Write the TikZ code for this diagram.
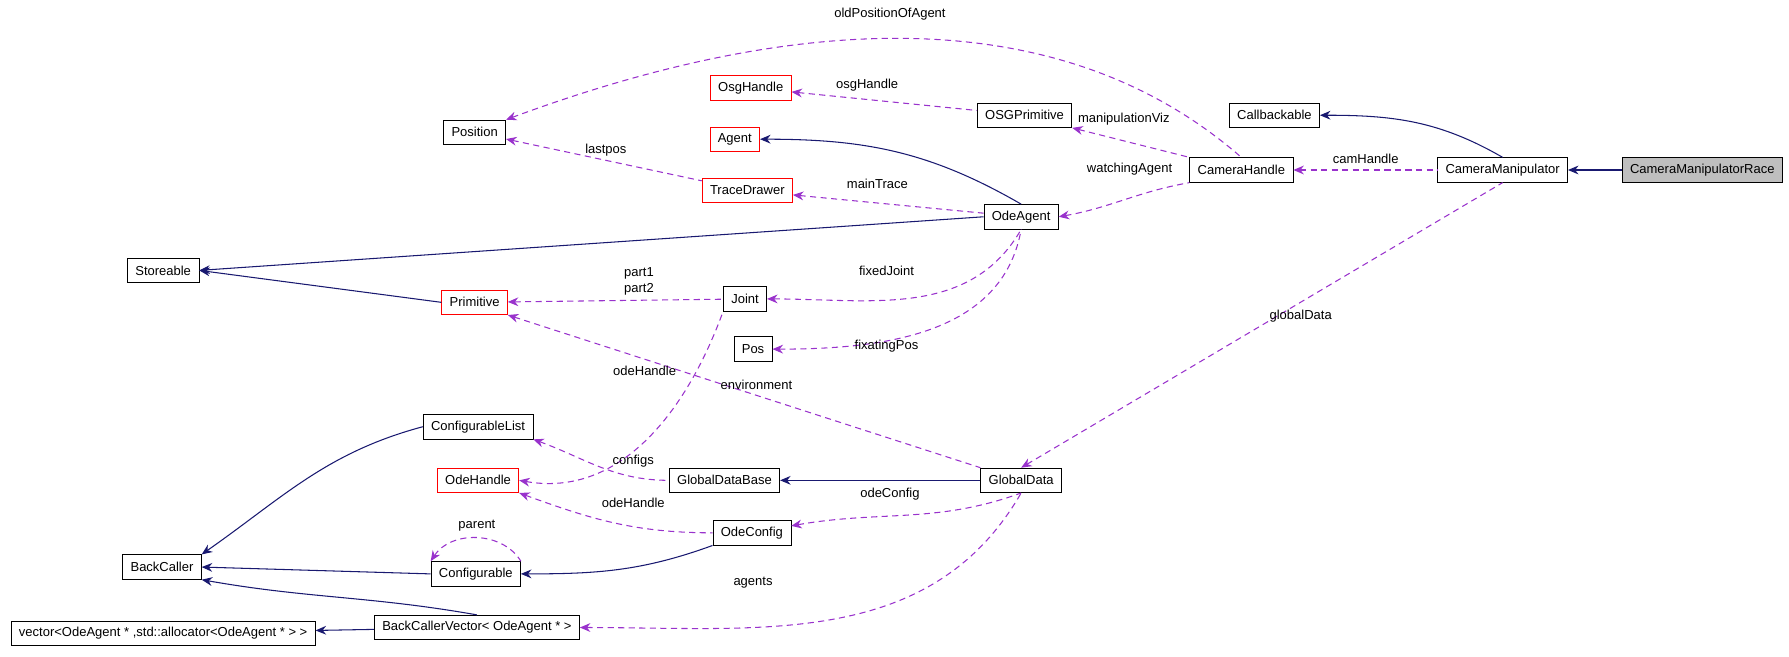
\documentclass[tikz,border=0pt]{standalone}
\usepackage{fontspec}
\setmainfont{Liberation Sans}
\usetikzlibrary{arrows.meta,positioning}
\definecolor{navyline}{RGB}{25,25,112}
\definecolor{useline}{RGB}{153,50,204}
\tikzset{
  cls/.style={draw, fill=white, font=\fontsize{7.4}{8}\selectfont, minimum height=14pt, inner xsep=4.5pt, inner ysep=1pt},
  redcls/.style={cls, draw=red},
  leaf/.style={cls, fill=black!25},
  inh/.style={navyline, semithick, {Stealth[length=6pt,width=5pt]}-},
  use/.style={useline, semithick, dashed, dash pattern=on 3.5pt off 2.5pt, {Stealth[length=6pt,width=5pt]}-},
  lbl/.style={font=\fontsize{7.4}{8}\selectfont, inner sep=1pt},
}
\begin{document}
\begin{tikzpicture}[x=0.02282cm,y=-0.02282cm]
\useasboundingbox (0,0) rectangle (1568,575);
% classes
\node (race)[leaf] at (1492,149) {CameraManipulatorRace};
\node (cammanip)[cls] at (1317,149) {CameraManipulator};
\node (callbackable)[cls] at (1117,101) {Callbackable};
\node (camhandle)[cls] at (1088,149) {CameraHandle};
\node (osgprim)[cls] at (898,101) {OSGPrimitive};
\node (osghandle)[redcls] at (658,77) {OsgHandle};
\node (agent)[redcls] at (644,122) {Agent};
\node (tracedrawer)[redcls] at (655,167) {TraceDrawer};
\node (position)[cls] at (416,116) {Position};
\node (odeagent)[cls] at (895,190) {OdeAgent};
\node (storeable)[cls] at (143,237) {Storeable};
\node (primitive)[redcls] at (416,265) {Primitive};
\node (joint)[cls] at (653,262) {Joint};
\node (pos)[cls] at (660,306) {Pos};
\node (conflist)[cls] at (419,374) {ConfigurableList};
\node (odehandle)[redcls] at (419,421) {OdeHandle};
\node (gdbase)[cls] at (635,421) {GlobalDataBase};
\node (globaldata)[cls] at (895,421) {GlobalData};
\node (odeconfig)[cls] at (659,467) {OdeConfig};
\node (backcaller)[cls] at (142,497) {BackCaller};
\node (configurable)[cls] at (417,503) {Configurable};
\node (vector)[cls] at (143,555) {vector<OdeAgent * ,std::allocator<OdeAgent * > >};
\node (bcvector)[cls] at (418,550) {BackCallerVector< OdeAgent * >};

% inheritance
\draw[inh] (cammanip) -- (race);
\draw[inh] (callbackable.east) to[out=0,in=150] (cammanip.north);
\draw[inh] (agent.east) to[out=0,in=150] (odeagent.north);
\draw[inh] (storeable.east) -- (odeagent.west);
\draw[inh] (storeable.east) -- (primitive.west);
\draw[inh] (gdbase) -- (globaldata);
\draw[inh] (backcaller.north east) to[out=35,in=195] (conflist.west);
\draw[inh] (backcaller.east) -- (configurable.west);
\draw[inh] (configurable.east) to[out=0,in=200] (odeconfig.south west);
\draw[inh] (backcaller.south east) to[out=-10,in=170] (bcvector.north);
\draw[inh] (vector) -- (bcvector);

% usage
\draw[use] (camhandle) -- (cammanip);
\node[lbl] at (1197,139) {camHandle};
\draw[use] (odeagent.east) to[out=10,in=190] (camhandle.south west);
\node[lbl] at (990,148) {watchingAgent};
\draw[use] (osgprim.south east) -- (camhandle.north west);
\node[lbl] at (985,104) {manipulationViz};
\draw[use] (position.north east) .. controls (700,10) and (930,0) .. (camhandle.north);
\node[lbl] at (780,12) {oldPositionOfAgent};
\draw[use] (osghandle) -- (osgprim);
\node[lbl] at (760,75) {osgHandle};
\draw[use] (tracedrawer) -- (odeagent);
\node[lbl] at (769,161) {mainTrace};
\draw[use] (position) -- (tracedrawer);
\node[lbl] at (531,132) {lastpos};
\draw[use] (primitive) -- (joint);
\node[lbl] at (560,240) {part1};
\node[lbl] at (560,254) {part2};
\draw[use] (joint.east) to[out=0,in=-120] (odeagent.south);
\node[lbl] at (777,237) {fixedJoint};
\draw[use] (pos.east) to[out=0,in=-100] (odeagent.south);
\node[lbl] at (777,303) {fixatingPos};
\draw[use] (globaldata.north) -- (cammanip.south);
\node[lbl] at (1140,277) {globalData};
\draw[use] (primitive.south east) -- (globaldata.north west);
\node[lbl] at (663,337) {environment};
\draw[use] (odehandle.east) to[out=-10,in=-110] (joint.south west);
\node[lbl] at (565,325) {odeHandle};
\draw[use] (conflist.south east) to[out=-20,in=180] (gdbase.west);
\node[lbl] at (555,404) {configs};
\draw[use] (odeconfig) to[out=10,in=200] (globaldata.south);
\node[lbl] at (780,433) {odeConfig};
\draw[use] (odehandle.south east) to[out=-20,in=180] (odeconfig.west);
\node[lbl] at (555,441) {odeHandle};
\draw[use] (configurable.north west) .. controls (395,465) and (440,465) .. (configurable.north east);
\node[lbl] at (418,461) {parent};
\draw[use] (bcvector.east) to[out=0,in=-120] (globaldata.south);
\node[lbl] at (660,511) {agents};
\end{tikzpicture}
\end{document}
